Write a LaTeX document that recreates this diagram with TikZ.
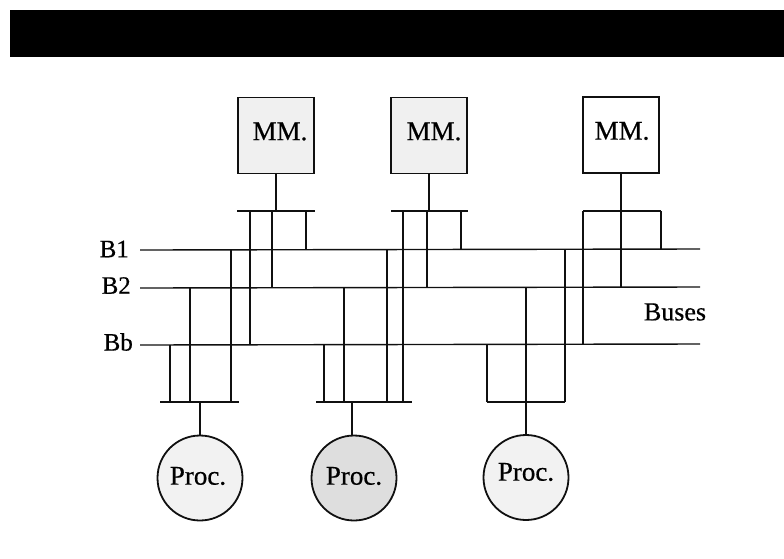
\documentclass[tikz,border=0pt]{standalone}
\usepackage{fontspec}
\setmainfont[FakeBold=0.5]{Liberation Serif}
\usetikzlibrary{positioning}
\definecolor{mmS}{HTML}{101010}
\definecolor{mmF}{HTML}{F0F0F0}
\definecolor{procF}{HTML}{F2F2F2}
\definecolor{procHi}{HTML}{DEDEDE}
\tikzset{
  mmBox/.style={rectangle, draw=mmS, fill=mmF, line width=1.8pt, inner sep=0pt,
                minimum width=76pt, minimum height=76pt},
  procNode/.style={circle, draw=mmS, fill=procF, line width=1.8pt, inner sep=0pt,
                minimum size=85pt},
  capLab/.style={inner sep=0pt, font=\fontsize{27}{30}\selectfont},
  busLab/.style={inner sep=0pt, font=\fontsize{25}{28}\selectfont},
  wire/.style={line width=1.4pt, draw=mmS},
}

\begin{document}
\begin{tikzpicture}[x=1pt, y=-1pt]
  \useasboundingbox (0,0) rectangle (784,558);

  % banner across the top
  \node[rectangle, fill=black, minimum width=774pt, minimum height=47pt, inner sep=0pt] (banner) at (397,33.5) {};

  % ─── Memories ───────────────────────────────
  \node[mmBox]                 (mm1) at (276,135.5) {};
  \node[mmBox]                 (mm2) at (429,135.5) {};
  \node[mmBox, fill=white]     (mm3) at (621,135)   {};
  \node[capLab] (mm1t) at (280,131.5) {MM.};
  \node[capLab] (mm2t) at (434,131.5) {MM.};
  \node[capLab] (mm3t) at (622,131)   {MM.};

  % ─── Processors ─────────────────────────────
  \node[procNode]              (p1) at (200,478)    {};
  \node[procNode, fill=procHi] (p2) at (354,478)    {};
  \node[procNode]              (p3) at (526,477.5)  {};
  \node[capLab] (p1t) at (198,476) {Proc.};
  \node[capLab] (p2t) at (354,476) {Proc.};
  \node[capLab] (p3t) at (526,472) {Proc.};

  % ─── Buses ──────────────────────────────────
  \coordinate (b1L) at (140,250);
  \coordinate (b1R) at (700,249);
  \coordinate (b2L) at (140,288);
  \coordinate (b2R) at (700,287);
  \coordinate (bbL) at (140,345);
  \coordinate (bbR) at (700,344);
  \draw[wire] (b1L) -- (b1R);
  \draw[wire] (b2L) -- (b2R);
  \draw[wire] (bbL) -- (bbR);
  \node[busLab, left=11pt of b1L, yshift=1pt] (lab1) {B1};
  \node[busLab, left=9pt of b2L, yshift=2.5pt]  (lab2) {B2};
  \node[busLab, left=7pt of bbL, yshift=3pt]  (labb) {Bb};
  \node[busLab, font=\fontsize{26}{30}\selectfont] (labbus) at (675,312) {Buses};

  % ─── Switch bars under the memories ─────────
  \coordinate (s1L) at (237,211);
  \coordinate (s1R) at (315,211);
  \coordinate (s2L) at (391,211);
  \coordinate (s2R) at (468,211);
  \coordinate (s3L) at (583,211);
  \coordinate (s3R) at (661,211);
  \draw[wire] (s1L) -- (s1R);
  \draw[wire] (s2L) -- (s2R);
  \draw[wire] (s3L) -- (s3R);
  \draw[wire] (mm1.south) -- (mm1.south |- s1L);
  \draw[wire] (mm2.south) -- (mm2.south |- s2L);
  \draw[wire] (mm3.south) -- (mm3.south |- s3L);

  % taps from mm bars, one per bus
  \coordinate (m1b) at (250,211);
  \coordinate (m12) at (272,211);
  \coordinate (m11) at (306,211);
  \coordinate (m2b) at (403,211);
  \coordinate (m22) at (427,211);
  \coordinate (m21) at (461,211);
  \coordinate (m32) at (621,211);
  \draw[wire] (m1b) -- (m1b |- bbL);
  \draw[wire] (m12) -- (m12 |- b2L);
  \draw[wire] (m11) -- (m11 |- b1L);
  \draw[wire] (m22) -- (m22 |- b2L);
  \draw[wire] (m21) -- (m21 |- b1L);
  \draw[wire] (s3L) -- (s3L |- bbL);
  \draw[wire] (m32) -- (m32 |- b2L);
  \draw[wire] (s3R) -- (s3R |- b1L);

  % ─── Switch bars over the processors ────────
  \coordinate (t1L) at (160,402);
  \coordinate (t1R) at (239,402);
  \coordinate (t2L) at (316,402);
  \coordinate (t2R) at (412,402);
  \coordinate (t3L) at (487,402);
  \coordinate (t3R) at (565,402);
  \coordinate (t2S) at (352,402);
  \draw[wire] (t1L) -- (t1R);
  \draw[wire] (t2L) -- (t2R);
  \draw[wire] (t3L) -- (t3R);
  \draw[wire] (p1.north) -- (p1.north |- t1L);
  \draw[wire] (t2S) -- (t2S |- p2.north);
  \draw[wire] (p3.north) -- (p3.north |- t3L);

  % taps from processor bars, one per bus
  \coordinate (q1b) at (170,402);
  \coordinate (q12) at (190,402);
  \coordinate (q11) at (231,402);
  \coordinate (q2b) at (324,402);
  \coordinate (q22) at (344,402);
  \coordinate (q21) at (387,402);
  \draw[wire] (q1b) -- (q1b |- bbL);
  \draw[wire] (q12) -- (q12 |- b2L);
  \draw[wire] (q11) -- (q11 |- b1L);
  \draw[wire] (q2b) -- (q2b |- bbL);
  \draw[wire] (q22) -- (q22 |- b2L);
  \draw[wire] (q21) -- (q21 |- b1L);
  \draw[wire] (t3L) -- (t3L |- bbL);
  \draw[wire] (p3.north |- t3L) -- (p3.north |- b2L);
  \draw[wire] (t3R) -- (t3R |- b1L);

  % this one runs from the mm2 bar down to the proc2 bar
  \draw[wire] (m2b) -- (m2b |- t2L);

\end{tikzpicture}
\end{document}
